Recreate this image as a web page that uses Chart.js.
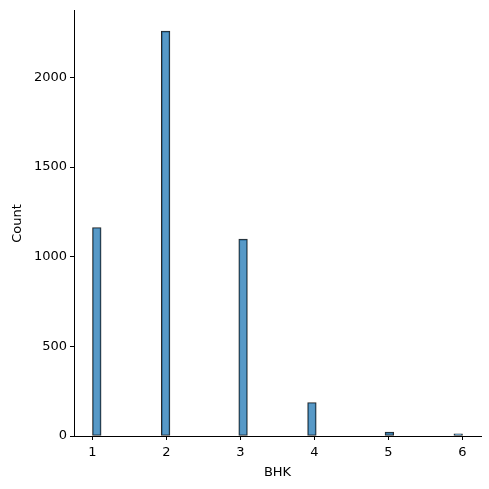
<!DOCTYPE html>
<html>
<head>
<meta charset="utf-8">
<script src="https://cdn.jsdelivr.net/npm/chart.js@4"></script>
<style>
  body { margin: 0; background: #fff; }
</style>
</head>
<body>
<canvas id="graph" width="489" height="489"></canvas>
<script>
// histogram of BHK: 43 bins from 1 to 6, only a few are filled
var binCount = 43;
var binLow = 1;
var binHigh = 6;
var filledBins = [0, 8, 17, 25, 34, 42];
var counts = [1163, 2259, 1098, 187, 22, 12];
var xTicks = [1, 2, 3, 4, 5, 6];
var yTicks = [0, 500, 1000, 1500, 2000];

var binWidth = (binHigh - binLow) / binCount;
var points = [];
for (var i = 0; i < binCount; i++) {
    var k = filledBins.indexOf(i);
    points.push({ x: binLow + (i + 0.5) * binWidth, y: k >= 0 ? counts[k] : null });
}

var font = { family: 'DejaVu Sans', size: 13 };

var ctx = document.getElementById('graph');
var graph = new Chart(ctx, {
    type: 'bar',
    data: {
        datasets: [{
            data: points,
            backgroundColor: 'rgba(31, 119, 180, 0.75)',
            borderColor: 'rgba(0, 0, 0, 0.85)',
            borderWidth: 1,
            borderSkipped: false,
            barPercentage: 1,
            categoryPercentage: 1
        }]
    },
    options: {
        responsive: false,
        animation: false,
        layout: { padding: { top: 9, right: 8, left: 0, bottom: 0 } },
        plugins: { legend: { display: false }, tooltip: { enabled: false } },
        scales: {
            x: {
                type: 'linear',
                min: 0.75,
                max: 6.25,
                offset: false,
                afterFit: function (s) { s.height = 53; },
                afterBuildTicks: function (s) { s.ticks = xTicks.map(function (v) { return { value: v }; }); },
                grid: { offset: false, drawOnChartArea: false, drawTicks: true, tickLength: 4, color: '#000' },
                border: { display: true, color: '#000', width: 1 },
                ticks: { color: '#000', font: font, padding: 5, maxRotation: 0, callback: function (v) { return String(v); } },
                title: { display: true, text: 'BHK', color: '#000', font: font, padding: { top: 2, bottom: 9 } }
            },
            y: {
                min: 0,
                max: 2372,
                afterFit: function (s) { s.width = 74; },
                afterBuildTicks: function (s) { s.ticks = yTicks.map(function (v) { return { value: v }; }); },
                grid: { drawOnChartArea: false, drawTicks: true, tickLength: 4, color: '#000' },
                border: { display: true, color: '#000', width: 1 },
                ticks: { color: '#000', font: font, padding: 3, callback: function (v) { return String(v); } },
                title: { display: true, text: 'Count', color: '#000', font: font, padding: { top: 10, bottom: 4 } }
            }
        }
    }
});
</script>
</body>
</html>
